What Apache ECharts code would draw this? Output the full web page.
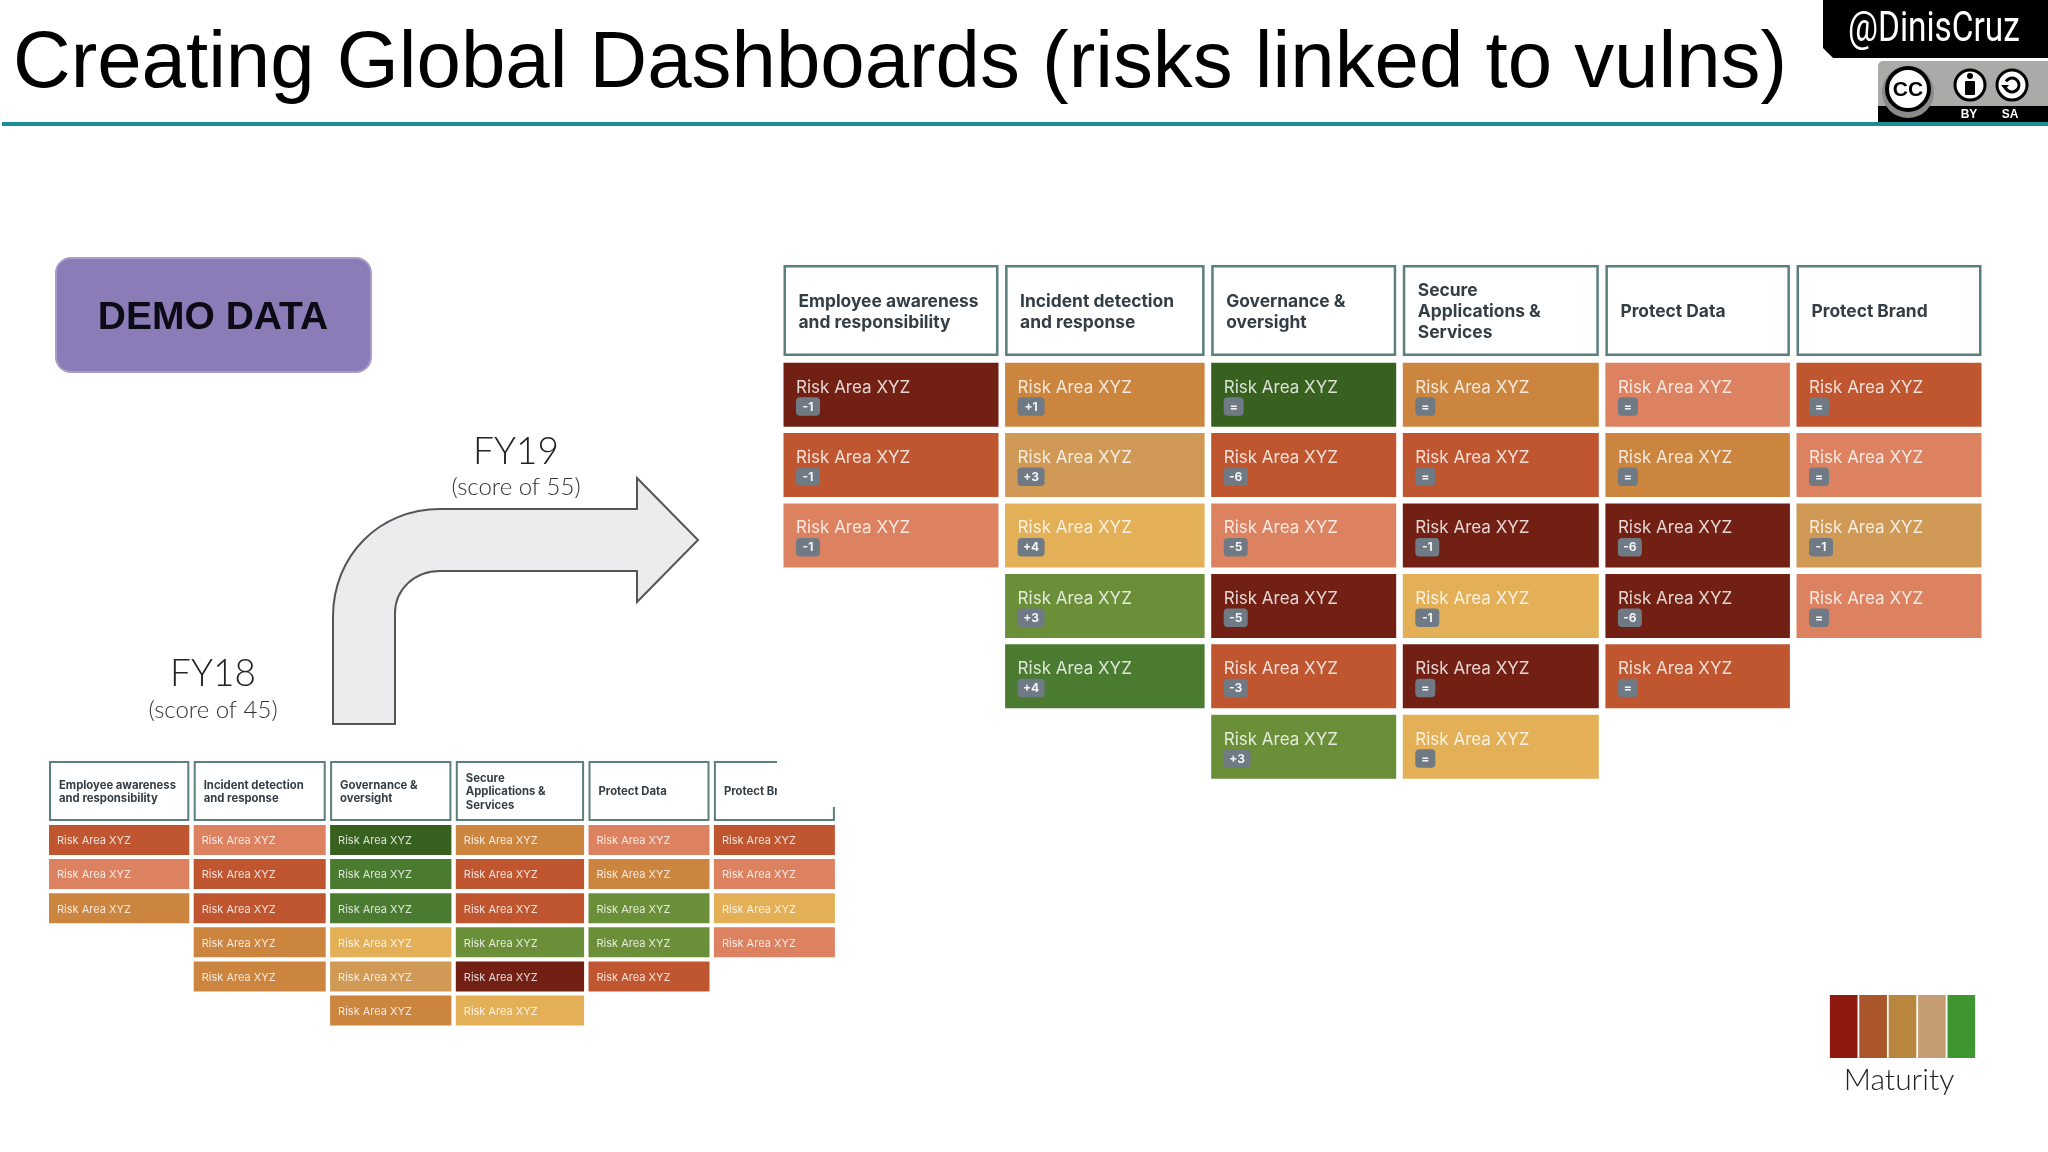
<!DOCTYPE html>
<html>
<head>
<meta charset="utf-8">
<style>html,body{margin:0;padding:0;background:#fff}#main{width:2048px;height:1152px}</style>
<script src="https://cdn.jsdelivr.net/npm/echarts@6/dist/echarts.min.js"></script>
</head>
<body>
<div id="main"></div>
<script>
// column titles, shared by both tables
const categories = [
    'Employee awareness\nand responsibility',
    'Incident detection\nand response',
    'Governance &\noversight',
    'Secure\nApplications &\nServices',
    'Protect Data',
    'Protect Brand'
];

// maturity level of each risk area, one list per column
const fy19Levels = [
    ['darkRed', 'burnt', 'salmon'],
    ['orange', 'tan', 'yellow', 'olive', 'green'],
    ['darkGreen', 'burnt', 'salmon', 'darkRed', 'burnt', 'olive'],
    ['orange', 'burnt', 'darkRed', 'yellow', 'darkRed', 'yellow'],
    ['salmon', 'orange', 'darkRed', 'darkRed', 'burnt'],
    ['burnt', 'salmon', 'tan', 'salmon']
];
const fy19Changes = [
    ['-1', '-1', '-1'],
    ['+1', '+3', '+4', '+3', '+4'],
    ['=', '-6', '-5', '-5', '-3', '+3'],
    ['=', '=', '-1', '-1', '=', '='],
    ['=', '=', '-6', '-6', '='],
    ['=', '=', '-1', '=']
];
const fy18Levels = [
    ['burnt', 'salmon', 'orange'],
    ['salmon', 'burnt', 'burnt', 'orange', 'orange'],
    ['darkGreen', 'green', 'green', 'yellow', 'tan', 'orange'],
    ['orange', 'burnt', 'burnt', 'olive', 'darkRed', 'yellow'],
    ['salmon', 'orange', 'olive', 'olive', 'burnt'],
    ['burnt', 'salmon', 'yellow', 'salmon']
];
const riskLabel = 'Risk Area XYZ';
const maturityScale = ['low', 'lowMid', 'mid', 'midHigh', 'high'];
const maturityValues = [1, 1, 1, 1, 1];

const levelColors = {
    darkRed: '#721f14', burnt: '#bf5630', salmon: '#dd8260', orange: '#cb853f', tan: '#d09a56',
    yellow: '#e3b058', olive: '#6b8f38', green: '#4a7b30', darkGreen: '#38601f'
};
const maturityColors = ['#8e1a0e', '#a9562a', '#b9863f', '#c69c74', '#3f9630'];

const fontFamily = 'Inter, "Noto Sans", sans-serif';
const thinFont = 'Lato, "Noto Sans", sans-serif';

// table geometry, in the units of each grid's axes
const bigTable = {
    left: 783.5, top: 265, width: 1198, height: 515,
    columns: [215, 199.5, 185, 196, 184.5, 185], columnGap: 6.6,
    headerHeight: 91, rowStart: 97.7, rowPitch: 70.4, rowHeight: 64,
    headerFont: 17.4, lineHeight: 21, headerInset: 15, headerBorder: 2.5, headerShift: 1.3,
    cellFont: 17, cellInset: 12.5, cellTextY: 24.8
};
const smallTable = {
    left: 49, top: 761, width: 786, height: 264,
    columns: [140.3, 132, 121.3, 128.3, 121, 121], columnGap: 4.4,
    headerHeight: 60, rowStart: 64, rowPitch: 34.1, rowHeight: 30,
    headerFont: 11.3, lineHeight: 13.7, headerInset: 10, headerBorder: 2, headerShift: 1,
    cellFont: 11, cellInset: 8, cellTextY: 16
};

function columnStart(table, col) {
    let x = 0;
    for (let i = 0; i < col; i++) x += table.columns[i] + table.columnGap;
    return x;
}

function tableRenderer(table) {
    return function (params, api) {
        const col = api.value(0);
        const row = api.value(1);
        const x0 = columnStart(table, col);
        const w = table.columns[col];
        const item = params.dataIndex;
        const tl = api.coord([x0, row < 0 ? 0 : table.rowStart + row * table.rowPitch]);
        const children = [];
        if (row < 0) {
            const br = api.coord([x0 + w, table.headerHeight]);
            const b = table.headerBorder;
            children.push({
                type: 'rect',
                shape: { x: tl[0] + b / 2, y: tl[1] + b / 2, width: br[0] - tl[0] - b, height: br[1] - tl[1] - b },
                style: { fill: '#fff', stroke: '#5b7f7c', lineWidth: b }
            });
            const lines = categories[col].split('\n');
            const midY = (tl[1] + br[1]) / 2 + table.headerShift;
            lines.forEach(function (line, i) {
                children.push({
                    type: 'text',
                    style: {
                        x: tl[0] + table.headerInset,
                        y: midY + (i - (lines.length - 1) / 2) * table.lineHeight,
                        text: line, fill: '#333d45', fontSize: table.headerFont, fontWeight: 700, fontFamily: fontFamily,
                        align: 'left', verticalAlign: 'middle'
                    }
                });
            });
            return { type: 'group', children: children };
        }
        const cell = table.cells[item];
        const br = api.coord([x0 + w, table.rowStart + row * table.rowPitch + table.rowHeight]);
        children.push({
            type: 'rect',
            shape: { x: tl[0], y: tl[1], width: br[0] - tl[0], height: br[1] - tl[1] },
            style: { fill: levelColors[cell.level] }
        });
        children.push({
            type: 'text',
            style: {
                x: tl[0] + table.cellInset, y: tl[1] + table.cellTextY,
                text: riskLabel, fill: 'rgba(255,255,255,0.82)', fontSize: table.cellFont, fontFamily: fontFamily,
                align: 'left', verticalAlign: 'middle'
            }
        });
        if (cell.change) {
            const badgeW = cell.change.length === 1 ? 20 : (cell.change[0] === '+' ? 27 : 24);
            const bx = tl[0] + table.cellInset;
            const by = tl[1] + 34.5;
            children.push({
                type: 'rect',
                shape: { x: bx, y: by, width: badgeW, height: 18.5, r: 4 },
                style: { fill: '#6f7a85' }
            });
            children.push({
                type: 'text',
                style: {
                    x: bx + badgeW / 2, y: by + 9.8,
                    text: cell.change, fill: '#f2f4f6', fontSize: 12, fontWeight: 700, fontFamily: fontFamily,
                    align: 'center', verticalAlign: 'middle'
                }
            });
        }
        return { type: 'group', children: children };
    };
}

// flatten the lists above into [column, row] items, headers on row -1
function tableSeries(table, levels, changes, gridIndex) {
    const items = [];
    table.cells = [];
    categories.forEach(function (name, col) {
        items.push([col, -1]);
        table.cells.push(null);
        levels[col].forEach(function (level, row) {
            items.push([col, row]);
            table.cells.push({ level: level, change: changes ? changes[col][row] : null });
        });
    });
    return {
        type: 'custom', xAxisIndex: gridIndex, yAxisIndex: gridIndex, silent: true, clip: false,
        renderItem: tableRenderer(table), data: items, encode: { x: 0, y: 1 }
    };
}

function gridFor(table) {
    return { left: table.left, top: table.top, width: table.width, height: table.height };
}
function hiddenX(table, i) {
    return { type: 'value', gridIndex: i, min: 0, max: table.width, show: false };
}
function hiddenY(table, i) {
    return { type: 'value', gridIndex: i, min: 0, max: table.height, inverse: true, show: false };
}

function label(text, x, y, size, extra) {
    return {
        type: 'text', x: x, y: y,
        style: Object.assign({
            text: text, fontSize: size, fontFamily: thinFont, fill: '#222', fontWeight: 300,
            align: 'center', verticalAlign: 'middle'
        }, extra || {})
    };
}

const arrowPath = 'M333 724 L333 617 C333 555 380 509 440 509 L637 509 L637 478 L698 540 L637 602 L637 571 ' +
    'L440 571 C414 571 395 590 395 613 L395 724 Z';

const decorations = [
    // teal rule under the title
    { type: 'rect', shape: { x: 2, y: 122, width: 2046, height: 4 }, style: { fill: '#1b8f98' } },
    // demo box
    { type: 'rect', shape: { x: 56, y: 258, width: 315, height: 114, r: 15 },
      style: { fill: '#8b7cb8', stroke: '#a79dc9', lineWidth: 2 } },
    label('DEMO DATA', 213, 318, 39, { fontFamily: '"Liberation Sans", sans-serif', fontWeight: 700, fill: '#0c0a14' }),
    // year captions
    label('FY19', 516, 452, 37),
    label('(score of 55)', 516, 487, 24, { fill: '#333' }),
    label('FY18', 213, 674, 37),
    label('(score of 45)', 213, 710, 24, { fill: '#333' }),
    label('Maturity', 1899, 1080, 30),
    // hides the cut-off corner of the small table's last header
    { type: 'rect', z: 20, shape: { x: 777, y: 755, width: 62, height: 52 }, style: { fill: '#fff' } },
    // handle badge
    { type: 'polygon', shape: { points: [[1823, 0], [2048, 0], [2048, 58], [1833, 58], [1823, 48]] }, style: { fill: '#000' } },
    { type: 'text', x: 1848, y: 30, scaleX: 0.795,
      style: { text: '@DinisCruz', fontSize: 42, fontFamily: 'Roboto, sans-serif', fill: '#fff', align: 'left', verticalAlign: 'middle' } },
    // licence badge
    { type: 'rect', shape: { x: 1878, y: 61, width: 170, height: 61, r: [5, 0, 0, 0] }, style: { fill: '#aaaba9' } },
    { type: 'rect', shape: { x: 1878, y: 106, width: 170, height: 16 }, style: { fill: '#000' } },
    { type: 'circle', shape: { cx: 1908, cy: 92, r: 26 }, style: { fill: '#8a8b89' } },
    { type: 'circle', shape: { cx: 1908, cy: 89, r: 21 }, style: { fill: '#fff', stroke: '#000', lineWidth: 4 } },
    label('CC', 1908, 90, 21, { fontFamily: '"Liberation Sans", sans-serif', fontWeight: 700, fill: '#000' }),
    { type: 'circle', shape: { cx: 1970, cy: 85, r: 15 }, style: { fill: '#fff', stroke: '#000', lineWidth: 3 } },
    { type: 'circle', shape: { cx: 1970, cy: 76, r: 3 }, style: { fill: '#000' } },
    { type: 'rect', shape: { x: 1965, y: 81, width: 10, height: 14, r: 1 }, style: { fill: '#000' } },
    { type: 'circle', shape: { cx: 2012, cy: 85, r: 15 }, style: { fill: '#fff', stroke: '#000', lineWidth: 3 } },
    { type: 'arc', shape: { cx: 2012, cy: 85, r: 7, startAngle: -2.6, endAngle: 2.6 },
      style: { fill: 'none', stroke: '#000', lineWidth: 3 } },
    { type: 'polygon', shape: { points: [[2001, 85], [2009, 85], [2005, 90]] }, style: { fill: '#000' } },
    label('BY', 1969, 115, 12, { fontFamily: '"Liberation Sans", sans-serif', fontWeight: 700, fill: '#fff' }),
    label('SA', 2010, 115, 12, { fontFamily: '"Liberation Sans", sans-serif', fontWeight: 700, fill: '#fff' })
];

const option = {
    animation: false,
    backgroundColor: '#fff',
    title: {
        text: 'Creating Global Dashboards (risks linked to vulns)',
        left: 8, top: 20,
        textStyle: { color: '#000', fontSize: 79.8, fontWeight: 400, fontFamily: '"Liberation Sans", Arial, sans-serif' }
    },
    grid: [gridFor(bigTable), gridFor(smallTable), { left: 1829, top: 995, width: 147, height: 63 }],
    xAxis: [
        hiddenX(bigTable, 0),
        hiddenX(smallTable, 1),
        { type: 'category', gridIndex: 2, data: maturityScale, show: false }
    ],
    yAxis: [
        hiddenY(bigTable, 0),
        hiddenY(smallTable, 1),
        { type: 'value', gridIndex: 2, min: 0, max: 1, show: false }
    ],
    series: [
        tableSeries(bigTable, fy19Levels, fy19Changes, 0),
        tableSeries(smallTable, fy18Levels, null, 1),
        {
            type: 'bar', xAxisIndex: 2, yAxisIndex: 2, silent: true, barCategoryGap: '6%',
            data: maturityValues.map(function (v, i) {
                return { value: v, itemStyle: { color: maturityColors[i] } };
            })
        },
        {
            // the bent arrow between the two years
            type: 'custom', coordinateSystem: 'none', silent: true, data: [0],
            renderItem: function () {
                return { type: 'path', shape: { pathData: arrowPath }, style: { fill: '#ecebee', stroke: '#555', lineWidth: 2 } };
            }
        }
    ],
    graphic: { elements: decorations }
};

const myChart = echarts.init(document.getElementById('main'));
myChart.setOption(option);
</script>
</body>
</html>
